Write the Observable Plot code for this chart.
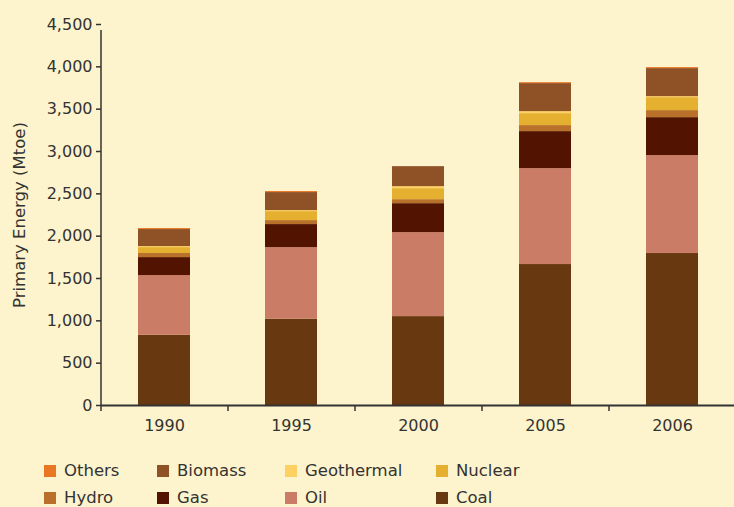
<!DOCTYPE html>
<html>
<head>
<meta charset="utf-8">
<script src="https://cdn.jsdelivr.net/npm/d3@7"></script>
<script src="https://cdn.jsdelivr.net/npm/@observablehq/plot@0.6"></script>
<style>
  html, body { margin: 0; padding: 0; background: #fdf3cc; }
  body { width: 734px; height: 507px; overflow: hidden; font-family: "DejaVu Sans", sans-serif; }
  #legend { display: grid; grid-template-columns: 113px 128px 151px 120px; grid-auto-rows: 27px;
            padding-left: 44px; margin-top: 12px; font-size: 16.5px; color: #333; }
  .item { display: flex; align-items: center; white-space: nowrap; }
  .sw { width: 12px; height: 12px; margin-right: 8px; flex: none; }
</style>
</head>
<body>
<div id="chart"></div>
<div id="legend"></div>
<script>
const years = ["1990", "1995", "2000", "2005", "2006"];
const sources = ["Coal", "Oil", "Gas", "Hydro", "Nuclear", "Geothermal", "Biomass", "Others"];
const colors = ["#683810", "#cb7c66", "#521400", "#b8702a", "#e5b030", "#fdd062", "#8f5126", "#e87623"];
const coal = [830, 1020, 1050, 1665, 1795];
const oil = [705, 845, 992, 1133, 1157];
const gas = [212, 272, 342, 437, 448];
const hydro = [48, 47, 47, 71, 83];
const nuclear = [70, 106, 130, 141, 153];
const geothermal = [12, 12, 24, 24, 12];
const biomass = [201, 213, 236, 331, 331];
const others = [12, 12, 0, 11, 12];
const legendOrder = ["Others", "Biomass", "Geothermal", "Nuclear", "Hydro", "Gas", "Oil", "Coal"];
const yTicks = [0, 500, 1000, 1500, 2000, 2500, 3000, 3500, 4000, 4500];

const series = [coal, oil, gas, hydro, nuclear, geothermal, biomass, others];
const data = [];
years.forEach((yr, i) => sources.forEach((s, j) => data.push({year: yr, source: s, value: series[j][i]})));

const step = 635 / 5;
const chart = Plot.plot({
  width: 734,
  height: 445,
  marginLeft: 101,
  marginRight: -2,
  marginTop: 24,
  marginBottom: 40,
  style: {background: "transparent", fontFamily: "'DejaVu Sans', sans-serif", fontSize: "16px", color: "#333"},
  x: {domain: years, paddingInner: 0.59, paddingOuter: 0.295, axis: null},
  y: {domain: [0, 4500], axis: null},
  color: {domain: sources, range: colors},
  marks: [
    Plot.barY(data, {x: "year", y: "value", fill: "source", order: sources}),
    Plot.axisY({ticks: yTicks, tickFormat: d3.format(","), tickSize: 5, tickPadding: 4, fontSize: 16,
                label: null, stroke: "#333", strokeWidth: 1.5, fill: "#333"}),
    Plot.axisY({ticks: [], label: "Primary Energy (Mtoe)", labelAnchor: "center", labelArrow: "none",
                labelOffset: 88, fontSize: 16.5, fill: "#333"}),
    Plot.axisX({tickSize: 0, tickPadding: 14, fontSize: 16, label: null, fill: "#333"}),
    Plot.ruleY([0], {stroke: "#333", strokeWidth: 2}),
    Plot.ruleX(years, {x: d => d, y1: 0, y2: 0, insetBottom: -6, dx: -step / 2, stroke: "#333", strokeWidth: 1.5}),
    Plot.ruleX([years[0]], {x: d => d, y1: 0, y2: 4500, insetBottom: -6, dx: -step / 2, stroke: "#333", strokeWidth: 1.5})
  ]
});
document.getElementById("chart").appendChild(chart);

const legend = document.getElementById("legend");
legendOrder.forEach(name => {
  const it = document.createElement("div");
  it.className = "item";
  const sw = document.createElement("span");
  sw.className = "sw";
  sw.style.background = colors[sources.indexOf(name)];
  it.appendChild(sw);
  it.appendChild(document.createTextNode(name));
  legend.appendChild(it);
});
</script>
</body>
</html>
